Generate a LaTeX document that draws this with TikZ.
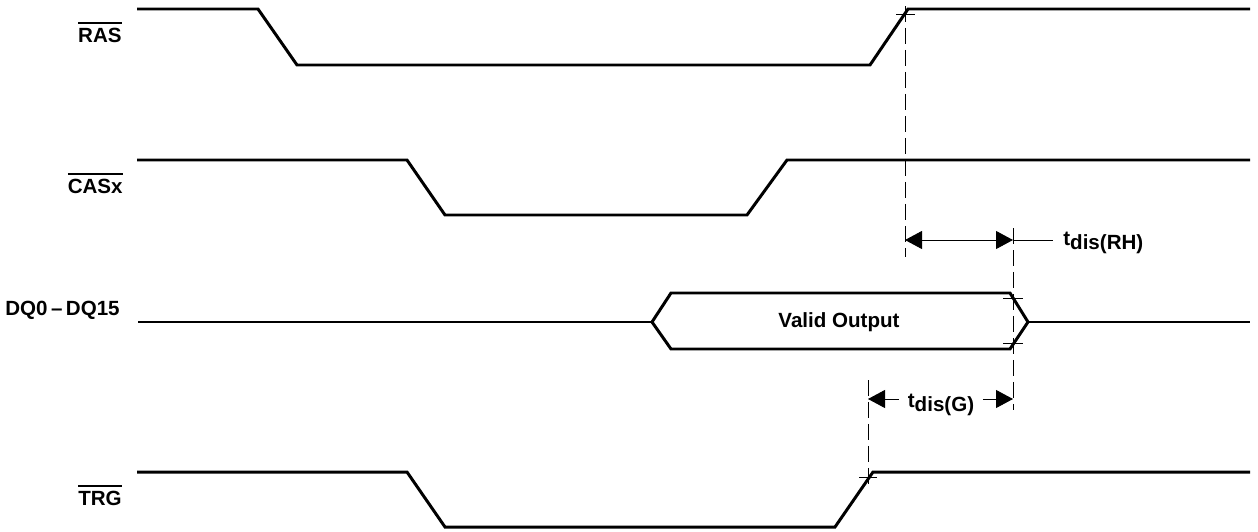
\documentclass[tikz,border=0pt]{standalone}
\usepackage{fontspec}
\setmainfont{Liberation Sans}
\usetikzlibrary{arrows.meta}
\newcommand\ovl[1]{\leavevmode\vbox{\hrule height 1.1pt\kern2.2pt\hbox{#1}}}

\begin{document}
\begin{tikzpicture}[x=0.02cm,y=-0.02cm,
	sig/.style={line width=1.7pt,line join=miter},
	guide/.style={line width=0.5pt,dash pattern=on 0.32cm off 0.12cm},
	tick/.style={line width=0.5pt},
	dim/.style={line width=0.5pt,-{Triangle[length=0.34cm,width=0.36cm]}},
	every node/.style={font=\fontsize{11.7}{13}\selectfont\bfseries,inner sep=0pt}]
		\useasboundingbox (0,0) rectangle (1258,531);
		% signal names
		\node[anchor=base east] (ras) at (122,42) {\ovl{RAS}};
		\node[anchor=base east] (cas) at (123,193) {\ovl{CASx}};
		\node[anchor=base east] (dq) at (120,315) {DQ0\,--\,DQ15};
		\node[anchor=base east] (trg) at (122,505) {\ovl{TRG}};
		% waveforms
		\draw[sig] (137,9) -- (258,9) -- (297,65) -- (870,65) -- (908,9) -- (1250,9);
		\draw[sig] (137,160) -- (407,160) -- (445,215) -- (747,215) -- (787,160) -- (1250,160);
		\draw[sig] (138,322) -- (652,322) (1028,322) -- (1250,322);
		\draw[sig] (652,322) -- (671,293) -- (1010,293) -- (1028,322) -- (1010,349) -- (671,349) -- cycle;
		\node[anchor=base] (valid) at (839,327) {Valid Output};
		\draw[sig] (137,472) -- (407,472) -- (445,527) -- (835,527) -- (873,472) -- (1250,472);
		% reference lines
		\coordinate (rh1) at (905,240);
		\coordinate (rh2) at (1013,240);
		\coordinate (g1) at (868,399);
		\coordinate (g2) at (1013,399);
		\draw[guide] (905,6) -- (905,257);
		\draw[guide] (1013,228) -- (1013,410);
		\draw[guide] (868,380) -- (868,487);
		\draw[tick] (896,14) -- (915,14);
		\draw[tick] (1003,298) -- (1023,298);
		\draw[tick] (1003,343) -- (1023,343);
		\draw[tick] (859,477) -- (877,477);
		% timing
		\draw[dim,{Triangle[length=0.34cm,width=0.36cm]}-{Triangle[length=0.34cm,width=0.36cm]}] (rh1) -- (rh2);
		\draw[tick] (rh2) -- ++(40,0);
		\node[anchor=base west] (trh) at (1063,245) {t\raisebox{-2.3pt}{dis(RH)}};
		\node[anchor=base,inner xsep=0.17cm] (tg) at (941,407) {t\raisebox{-2.3pt}{dis(G)}};
		\draw[dim] (tg.west |- g1) -- (g1);
		\draw[dim] (tg.east |- g1) -- (g2);
\end{tikzpicture}
\end{document}
